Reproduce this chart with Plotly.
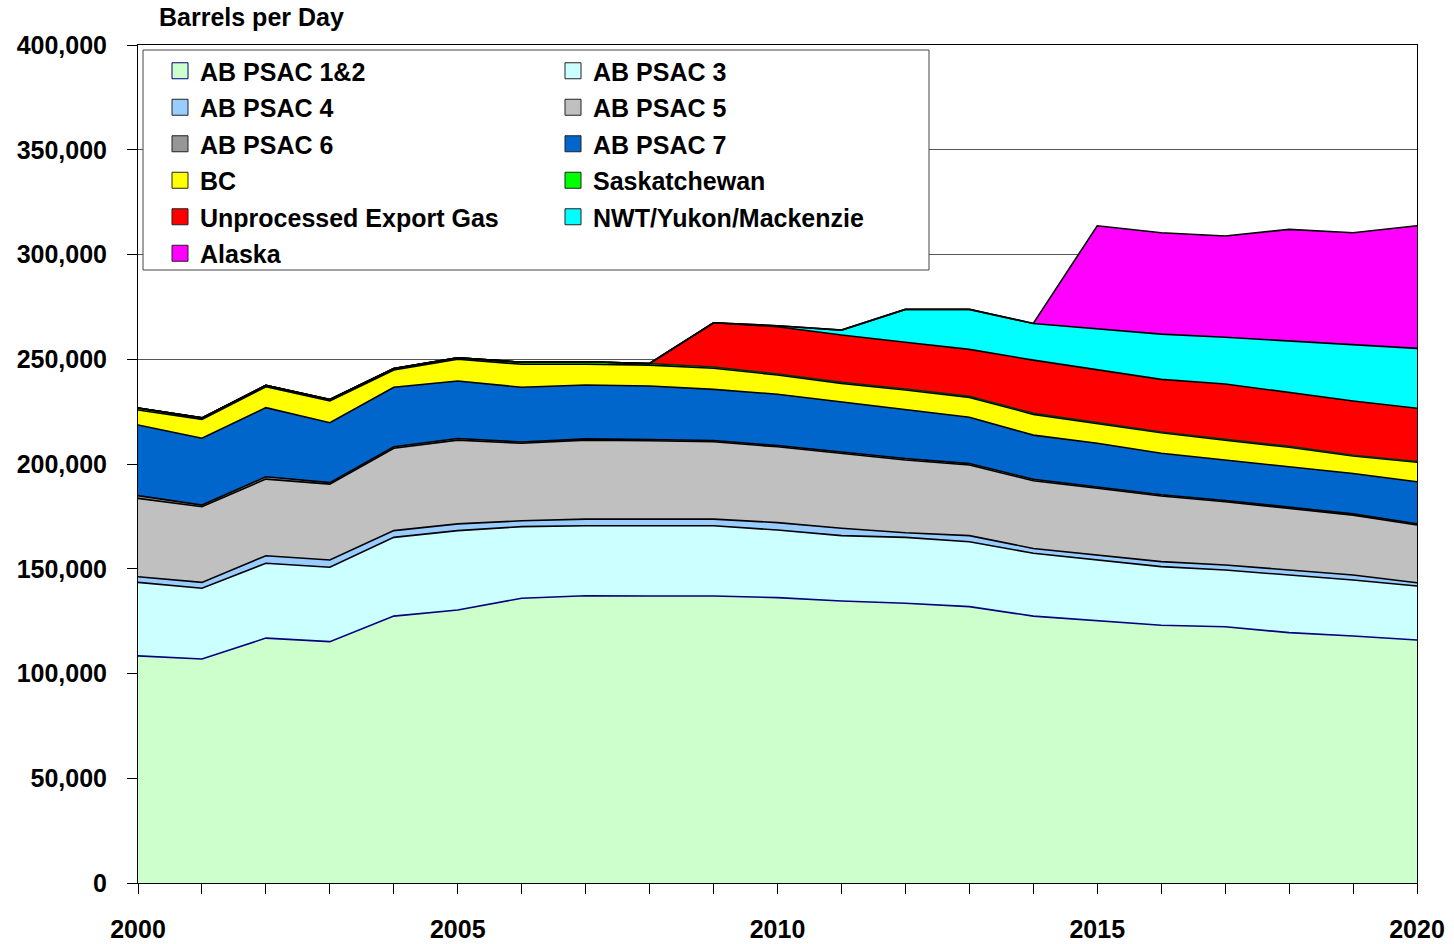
import plotly.graph_objects as go

years = list(range(2000, 2021))

ab_psac_12 = [108400, 106900, 116900, 115200, 127400, 130300, 135900, 137100, 137000, 137000, 136200,
              134600, 133500, 131900, 127400, 125200, 123000, 122300, 119500, 117900, 116000]
ab_psac_3 = [35100, 33800, 35700, 35500, 37600, 37900, 34200, 33400, 33500, 33500, 32300,
             31200, 31500, 31000, 30000, 29000, 28000, 27100, 27500, 26700, 25800]
ab_psac_4 = [2700, 2800, 3600, 3500, 3200, 3200, 2800, 3200, 3200, 3200, 3500,
             3500, 2200, 2900, 2300, 2400, 2400, 2400, 2400, 2400, 1500]
ab_psac_5 = [37400, 36100, 36600, 36200, 39300, 40000, 37000, 37700, 37400, 36900, 36200,
             35800, 34700, 33700, 32300, 31800, 31300, 30200, 29400, 28600, 27600]
ab_psac_6 = [1300, 800, 1100, 700, 700, 800, 600, 600, 600, 600, 600,
             700, 700, 700, 700, 600, 600, 600, 600, 600, 600]
ab_psac_7 = [33700, 31900, 33000, 28600, 28400, 27400, 26100, 25700, 25500, 24400, 24500,
             23900, 23400, 22100, 21100, 20900, 19800, 19300, 19300, 19300, 20000]
bc = [7200, 9000, 10000, 10400, 8300, 10400, 11000, 9900, 10000, 10100, 9200,
      8800, 9300, 9500, 9900, 9500, 9800, 9500, 9300, 8300, 9300]
saskatchewan = [900, 700, 700, 700, 700, 700, 1000, 1200, 800, 600, 500,
                500, 500, 500, 500, 400, 400, 400, 400, 400, 400]
unprocessed_export = [0, 0, 0, 0, 0, 0, 0, 0, 0, 21100, 22500,
                      22600, 22300, 22400, 25400, 25100, 25100, 26400, 25600, 25900, 25400]
nwt_yukon_mackenzie = [0, 0, 0, 0, 0, 0, 0, 0, 0, 0, 500,
                       2300, 15700, 19100, 17500, 19800, 21600, 22300, 24700, 27000, 28600]
alaska = [0, 0, 0, 0, 0, 0, 0, 0, 0, 0, 0,
          0, 0, 0, 0, 49000, 48400, 48300, 53300, 53300, 58500]

series = [
    ("AB PSAC 1&2", ab_psac_12, "#CCFFCC", "#000080", "legend"),
    ("AB PSAC 3", ab_psac_3, "#CCFFFF", "#000000", "legend2"),
    ("AB PSAC 4", ab_psac_4, "#99CCFF", "#000000", "legend"),
    ("AB PSAC 5", ab_psac_5, "#C0C0C0", "#000000", "legend2"),
    ("AB PSAC 6", ab_psac_6, "#969696", "#000000", "legend"),
    ("AB PSAC 7", ab_psac_7, "#0066CC", "#000000", "legend2"),
    ("BC", bc, "#FFFF00", "#000000", "legend"),
    ("Saskatchewan", saskatchewan, "#00FF00", "#003300", "legend2"),
    ("Unprocessed Export Gas", unprocessed_export, "#FF0000", "#000000", "legend"),
    ("NWT/Yukon/Mackenzie", nwt_yukon_mackenzie, "#00FFFF", "#000000", "legend2"),
    ("Alaska", alaska, "#FF00FF", "#000000", "legend"),
]

fig = go.Figure()
for name, vals, fill, line, _ in series:
    fig.add_trace(go.Scatter(
        x=years, y=vals, name=name, stackgroup="one", mode="lines",
        line=dict(color=line, width=1.6), fillcolor=fill, showlegend=False,
        hoverinfo="x+y+name"))

# legend-only entries (square swatches, Excel-like two-column legend)
for name, vals, fill, line, leg in series:
    fig.add_trace(go.Scatter(
        x=[None], y=[None], name=name, mode="markers", legend=leg,
        legendgroup=name,
        marker=dict(symbol="square", size=16, color=fill,
                    line=dict(color="#000080" if name == "AB PSAC 1&2" else "#222222", width=1)),
        showlegend=True))

W, H = 1454, 944
L, R, T, B = 138, 37, 45, 61
pw, ph = W - L - R, H - T - B

def px_x(x):
    return (x - L) / pw

def px_y(y):
    return 1 - (y - T) / ph

font_family = "Liberation Sans, Arial, sans-serif"
legend_font = dict(family=font_family, size=25, color="black", weight="bold")

fig.update_layout(
    width=W, height=H,
    margin=dict(l=L, r=R, t=T, b=B, autoexpand=False),
    paper_bgcolor="white", plot_bgcolor="white",
    font=dict(family=font_family, color="black"),
    showlegend=True,
    legend=dict(x=px_x(160), y=px_y(48), xanchor="left", yanchor="top",
                bgcolor="rgba(0,0,0,0)", borderwidth=0, font=legend_font,
                tracegroupgap=1, itemclick=False, itemdoubleclick=False),
    legend2=dict(x=px_x(553), y=px_y(48), xanchor="left", yanchor="top",
                 bgcolor="rgba(0,0,0,0)", borderwidth=0, font=legend_font,
                 tracegroupgap=1, itemclick=False, itemdoubleclick=False),
    xaxis=dict(range=[2000, 2020], tickmode="linear", tick0=2000, dtick=5,
               automargin=False,
               ticks="outside", ticklen=10, tickcolor="black", tickwidth=1,
               showline=True, linecolor="black", linewidth=1, mirror=True,
               showgrid=False, zeroline=False, ticklabelstandoff=14,
               tickfont=dict(family=font_family, size=25, color="black", weight="bold"),
               minor=dict(dtick=1, tick0=2000, ticks="outside", ticklen=10,
                          tickcolor="black", tickwidth=1, showgrid=False)),
    yaxis=dict(range=[0, 400000], tickmode="linear", tick0=0, dtick=50000,
               automargin=False,
               tickformat=",d", ticks="outside", ticklen=10, tickcolor="black",
               tickwidth=1, showline=True, linecolor="black", linewidth=1,
               mirror=True, showgrid=True, gridcolor="#555555", gridwidth=1,
               zeroline=False, ticklabelstandoff=15,
               tickfont=dict(family=font_family, size=25, color="black", weight="bold")),
    shapes=[dict(type="rect", xref="paper", yref="paper",
                 x0=px_x(143), x1=px_x(929), y0=px_y(270), y1=px_y(50),
                 line=dict(color="#444444", width=1), fillcolor="white",
                 layer="above")],
    annotations=[dict(text="Barrels per Day", xref="paper", yref="paper",
                      x=px_x(157), y=px_y(17), xanchor="left", yanchor="middle",
                      showarrow=False,
                      font=dict(family=font_family, size=25, color="black", weight="bold"))],
)

fig.write_html(
    "out.html",
    config={"displayModeBar": False},
    post_script="document.body.style.margin='0';document.body.style.overflow='hidden';",
)
